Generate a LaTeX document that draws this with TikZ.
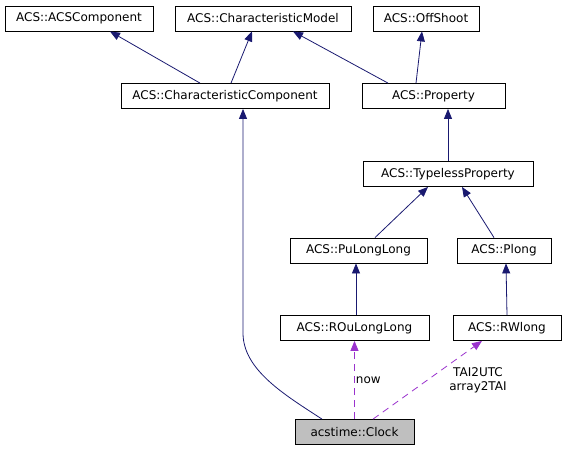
\documentclass[tikz,border=0pt]{standalone}
\usepackage{fontspec}
\setmainfont{DejaVu Sans}
\usetikzlibrary{arrows.meta}
\definecolor{edgeblue}{HTML}{191970}
\definecolor{usepurple}{HTML}{9A32CD}
\begin{document}
\begin{tikzpicture}[x=1pt, y=-1pt,
    cls/.style={draw, line width=0.8pt, minimum height=25pt, inner sep=0pt, font=\fontsize{12}{14}\selectfont},
    inherit/.style={-{Triangle[length=10pt,width=8pt]}, edgeblue, line width=0.8pt},
    uses/.style={-{Triangle[length=10pt,width=8pt]}, usepurple, line width=0.8pt, dash pattern=on 7pt off 5pt},
    lbl/.style={font=\fontsize{12}{14}\selectfont, align=center, text=black}]
    \useasboundingbox (0,0) rectangle (565,451);

    % Classes
    \node[cls, minimum width=148pt] (acscomp) at (79,18.5) {ACS::ACSComponent};
    \node[cls, minimum width=176pt] (charmodel) at (263,18.5) {ACS::CharacteristicModel};
    \node[cls, minimum width=106pt] (offshoot) at (426,18.5) {ACS::OffShoot};

    \node[cls, minimum width=208pt] (charcomp) at (225,96) {ACS::CharacteristicComponent};
    \node[cls, minimum width=143pt] (property) at (433.5,96) {ACS::Property};

    \node[cls, minimum width=170pt] (typeless) at (448,174) {ACS::TypelessProperty};

    \node[cls, minimum width=137pt] (pulonglong) at (358.5,250.5) {ACS::PuLongLong};
    \node[cls, minimum width=94pt] (plong) at (504,250.5) {ACS::Plong};

    \node[cls, minimum width=149pt] (roulonglong) at (354.5,328) {ACS::ROuLongLong};
    \node[cls, minimum width=108pt] (rwlong) at (507,328) {ACS::RWlong};

    \node[cls, minimum width=119pt, fill=black!25] (clock) at (354.5,432) {acstime::Clock};

    % Inheritance
    \draw[inherit] ([xshift=-25pt]charcomp.north) -- ([xshift=31pt]acscomp.south);
    \draw[inherit] ([xshift=6pt]charcomp.north) -- ([xshift=-11pt]charmodel.south);
    \draw[inherit] ([xshift=-45.5pt]property.north) -- ([xshift=30pt]charmodel.south);
    \draw[inherit] ([xshift=-17.5pt]property.north) -- ([xshift=-4pt]offshoot.south);
    \draw[inherit] (typeless.north) -- ([xshift=14.5pt]property.south);
    \draw[inherit] ([xshift=16.5pt]pulonglong.north) -- ([xshift=-20pt]typeless.south);
    \draw[inherit] ([xshift=-10pt]plong.north) -- ([xshift=14pt]typeless.south);
    \draw[inherit] ([xshift=1.5pt]roulonglong.north) -- ([xshift=-2.5pt]pulonglong.south);
    \draw[inherit] (rwlong.north) -- ([xshift=2pt]plong.south);
    \draw[inherit] ([xshift=-32.5pt]clock.north) .. controls (285,395) and (243,370) .. (243,333) -- ([xshift=18pt]charcomp.south);

    % Usage
    \draw[uses] (clock.north) -- (roulonglong.south) node[pos=0.5, right, lbl, inner sep=1pt] {now};
    \draw[uses] ([xshift=18.5pt]clock.north) -- ([xshift=-25pt]rwlong.south);
    \node[lbl, inner sep=0pt] (ucall) at (478,380) {TAI2UTC\\array2TAI};
\end{tikzpicture}
\end{document}
